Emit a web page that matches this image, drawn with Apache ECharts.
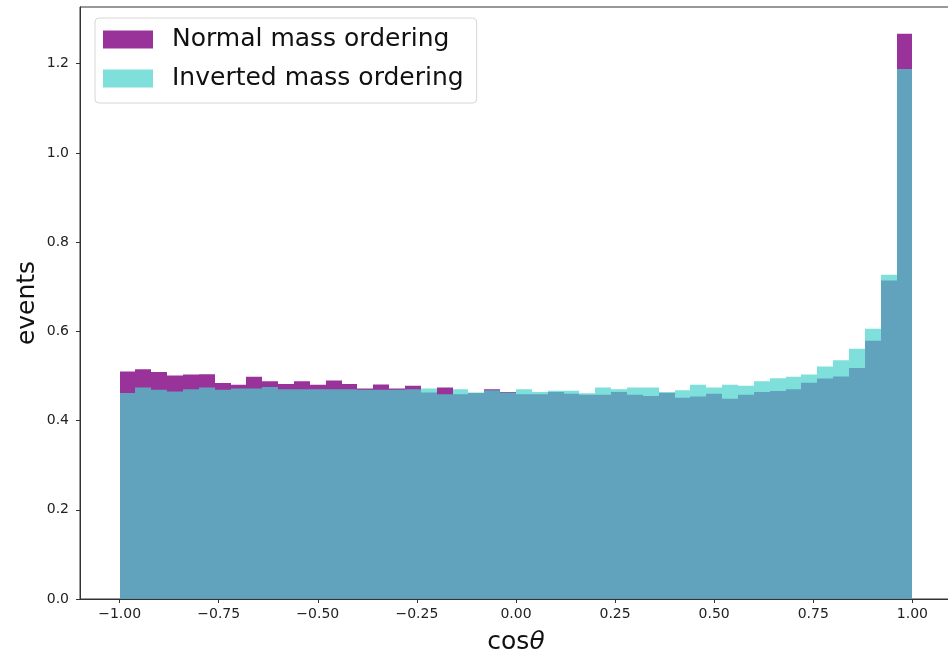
<!DOCTYPE html>
<html><head><meta charset="utf-8">
<script src="https://cdn.jsdelivr.net/npm/echarts@6/dist/echarts.min.js"></script>
<style>html,body{margin:0;padding:0;background:#fff;overflow:hidden}#c{width:970px;height:660px}</style>
</head><body><div id="c"></div>
<script>
const binStart = -1, binWidth = 0.04;
const normalOrdering = [0.510,0.515,0.509,0.501,0.503,0.504,0.484,0.480,0.498,0.488,
  0.482,0.488,0.480,0.490,0.482,0.472,0.481,0.472,0.478,0.463,
  0.474,0.459,0.462,0.470,0.464,0.459,0.459,0.464,0.460,0.458,
  0.458,0.464,0.458,0.455,0.462,0.451,0.454,0.460,0.449,0.458,
  0.464,0.466,0.470,0.485,0.494,0.499,0.518,0.579,0.714,1.267];
const invertedOrdering = [0.462,0.474,0.469,0.465,0.470,0.474,0.469,0.472,0.472,0.475,
  0.470,0.470,0.470,0.470,0.470,0.469,0.469,0.469,0.470,0.472,
  0.459,0.470,0.463,0.468,0.463,0.470,0.464,0.467,0.467,0.461,
  0.474,0.470,0.474,0.474,0.464,0.468,0.480,0.474,0.480,0.478,
  0.488,0.495,0.498,0.503,0.521,0.535,0.561,0.606,0.727,1.188];
const xTicks = [-1, -0.75, -0.5, -0.25, 0, 0.25, 0.5, 0.75, 1];
const yTicks = [0, 0.2, 0.4, 0.6, 0.8, 1.0, 1.2];

function toBins(vals){ return vals.map((v,i)=>[binStart+i*binWidth, binStart+(i+1)*binWidth, v]); }
function renderBar(params, api){
  const p0 = api.coord([api.value(0), 0]);
  const p1 = api.coord([api.value(1), api.value(2)]);
  const x0 = Math.round(p0[0]), x1 = Math.round(p1[0]);
  return {type:'rect', shape:{x:x0, y:p1[1], width:x1-x0, height:p0[1]-p1[1]},
    style:{fill: api.visual('color')}};
}
const fmtX = v => (v<0?'\u2212':'') + Math.abs(v).toFixed(2);
const chart = echarts.init(document.getElementById('c'), null, {renderer:'canvas'});
const axisCol = '#333';
chart.setOption({
  animation:false,
  backgroundColor:'#fff',
  grid:{left:80, top:7, width:872, height:594, show:true, borderColor:axisCol, borderWidth:1, backgroundColor:'transparent'},
  legend:{orient:'vertical', left:95, top:18, padding:[9,13,12,8], itemWidth:50, itemHeight:18, itemGap:14,
    icon:'rect', borderColor:'#d6d6d6', borderWidth:1, borderRadius:4, backgroundColor:'rgba(255,255,255,0.8)',
    textStyle:{fontFamily:'DejaVu Sans', fontSize:25, color:'#111', padding:[0,0,0,14]},
    data:['Normal mass ordering','Inverted mass ordering']},
  xAxis:{type:'value', min:-1.1, max:1.1, splitLine:{show:false},
    axisLine:{show:true, onZero:false, lineStyle:{color:axisCol}},
    axisTick:{show:true, length:4, lineStyle:{color:axisCol}, customValues:xTicks},
    axisLabel:{customValues:xTicks, formatter:fmtX, fontFamily:'DejaVu Sans', fontSize:14, color:'#222', margin:8},
    name:'{a|cos}{b|θ}', nameLocation:'middle', nameGap:31, nameMoveOverlap:false,
    nameTextStyle:{rich:{a:{fontFamily:'DejaVu Sans', fontSize:25, color:'#111'}, b:{fontFamily:'DejaVu Sans', fontStyle:'italic', fontSize:25, color:'#111'}}}},
  yAxis:{type:'value', min:0, max:1.327, splitLine:{show:false},
    axisLine:{show:true, onZero:false, lineStyle:{color:axisCol}},
    axisTick:{show:true, length:4, lineStyle:{color:axisCol}, customValues:yTicks},
    axisLabel:{customValues:yTicks, formatter:v=>v.toFixed(1), fontFamily:'DejaVu Sans', fontSize:14, color:'#222', margin:11},
    name:'events', nameLocation:'middle', nameGap:40, nameMoveOverlap:false,
    nameTextStyle:{fontFamily:'DejaVu Sans', fontSize:25, color:'#111'}},
  series:[
    {name:'Normal mass ordering', type:'custom', renderItem:renderBar, data:toBins(normalOrdering),
      itemStyle:{color:'rgba(128,0,128,0.8)'}, encode:{x:[0,1], y:2}},
    {name:'Inverted mass ordering', type:'custom', renderItem:renderBar, data:toBins(invertedOrdering),
      itemStyle:{color:'rgba(72,209,204,0.7)'}, encode:{x:[0,1], y:2}}
  ]
});
</script></body></html>
